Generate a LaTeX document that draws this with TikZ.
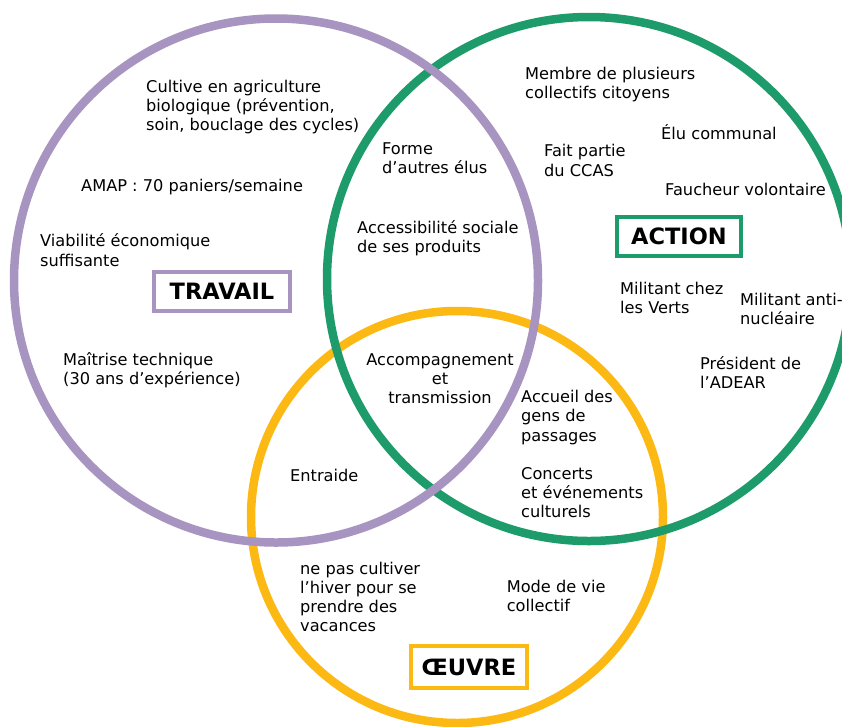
\documentclass[tikz,border=0pt]{standalone}
\usepackage{fontspec}
\setmainfont{DejaVu Sans}
\definecolor{trav}{HTML}{A894C0}
\definecolor{act}{HTML}{1E9B6B}
\definecolor{oeu}{HTML}{FDB913}
\begin{document}
\begin{tikzpicture}[x=1pt,y=-1pt,
  ring/.style={line width=8.5pt},
  lbl/.style={inner sep=0pt,anchor=base west,align=left,font=\fontsize{16.2}{19.3}\selectfont},
  title/.style={line width=4.2pt},
  ttext/.style={font=\fontsize{22.5}{25}\selectfont\bfseries}]
\useasboundingbox (0,0) rectangle (842,726);
\fill[white] (0,0) rectangle (842,726);
% circles
\draw[ring,oeu] (457,517) circle[radius=206pt];
\draw[ring,act] (589,279) circle[radius=262pt];
\draw[ring,trav] (276,280.5) circle[radius=262pt];
% title boxes
\draw[title,trav] (154,272) rectangle (290,311);
\node[ttext] (travail) at (222,291.5) {TRAVAIL};
\draw[title,act] (617,217) rectangle (741,256);
\node[ttext] (action) at (679,236.5) {ACTION};
\draw[title,oeu] (411,646) rectangle (527,688);
\node[ttext] (oeuvre) at (469,667) {ŒUVRE};
% texts (anchor = baseline of last line)
\node[lbl] (t1) at (146,130.9) {Cultive en agriculture\\biologique (prévention,\\soin, bouclage des cycles)};
\node[lbl] (t2) at (81,191.7) {AMAP : 70 paniers/semaine};
\node[lbl] (t3) at (40,266) {Viabilité économique\\suffisante};
\node[lbl] (t4) at (63,384.7) {Maîtrise technique\\(30 ans d’expérience)};
\node[lbl] (t5) at (382,173.3) {Forme\\d’autres élus};
\node[lbl] (t6) at (357,252.6) {Accessibilité sociale\\de ses produits};
\node[lbl] (a1) at (525,98.3) {Membre de plusieurs\\collectifs citoyens};
\node[lbl] (a2) at (544,176) {Fait partie\\du CCAS};
\node[lbl] (a3) at (661,139.3) {Élu communal};
\node[lbl] (a4) at (665,195) {Faucheur volontaire};
\node[lbl] (a5) at (620,313.6) {Militant chez\\les Verts};
\node[lbl] (a6) at (740,324.3) {Militant anti-\\nucléaire};
\node[lbl] (a7) at (700,388.7) {Président de\\l’ADEAR};
\node[lbl,anchor=base,align=center] (c1) at (440,403.6) {Accompagnement\\et\\transmission};
\node[lbl] (o1) at (521,441) {Accueil des\\gens de\\passages};
\node[lbl] (o2) at (521,517.6) {Concerts\\et événements\\culturels};
\node[lbl] (o3) at (290,481.3) {Entraide};
\node[lbl] (o4) at (300,631.9) {ne pas cultiver\\l’hiver pour se\\prendre des\\vacances};
\node[lbl] (o5) at (506.6,611.3) {Mode de vie\\collectif};
\end{tikzpicture}
\end{document}
